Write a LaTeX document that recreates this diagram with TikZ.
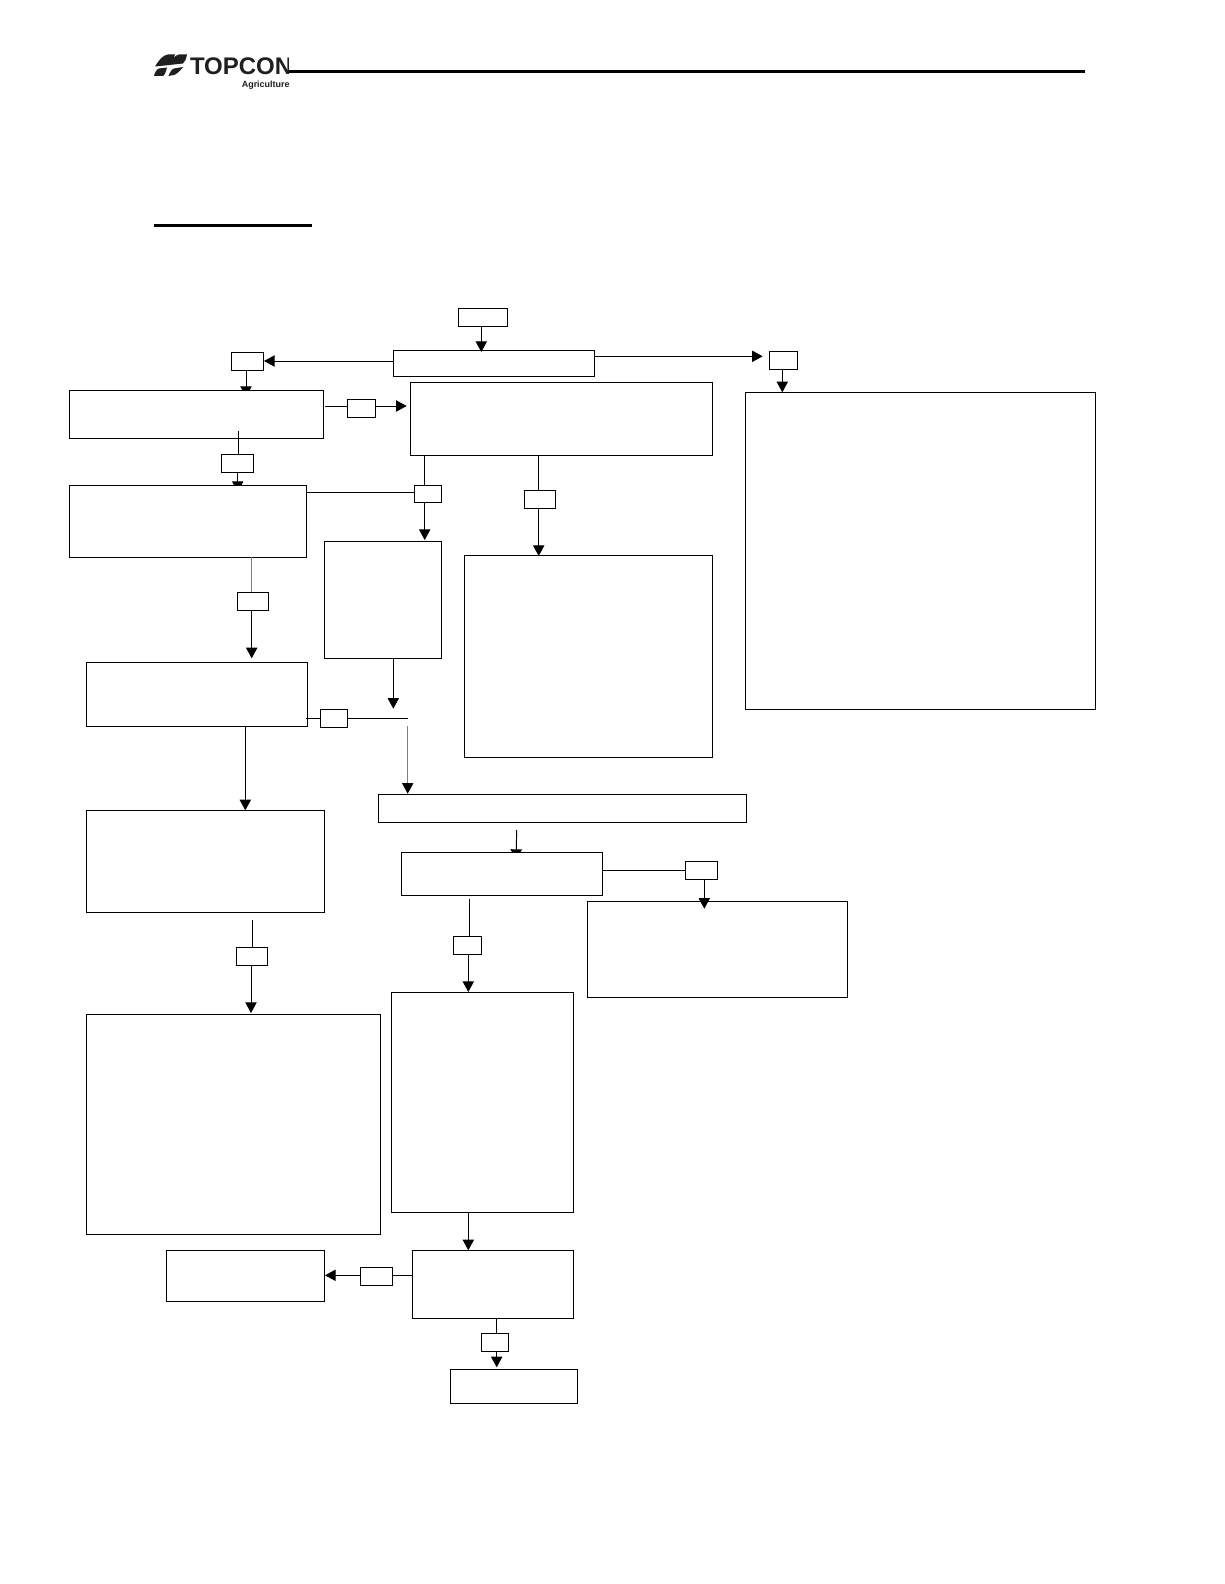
\documentclass[tikz,border=0pt]{standalone}
\usepackage{fontspec}
\setmainfont{Liberation Sans}
\usetikzlibrary{arrows.meta,backgrounds}
\tikzset{
  boxy/.style={draw=black,fill=white,line width=0.72pt,inner sep=0pt,outer sep=0pt,anchor=north west},
  link/.style={draw=black,line width=0.72pt},
  faint/.style={draw=black!50,line width=0.72pt},
  arr/.style={-{Triangle[color=black,width=8.5pt,length=8pt]}},
  rule/.style={draw=black,line width=2.1pt},
  word/.style={inner sep=0pt,outer sep=0pt,text=black!88,font=\bfseries}
}
% name, left, top, right, bottom in reference pixels
\newcommand{\pxbox}[5]{%
  \pgfmathsetmacro{\bw}{(#4-#2)*0.75}%
  \pgfmathsetmacro{\bh}{(#5-#3)*0.75}%
  \node[boxy,minimum width=\bw pt,minimum height=\bh pt] (#1) at (#2,#3) {};}
\begin{document}
\begin{tikzpicture}[x=0.75pt,y=-0.75pt]
\useasboundingbox (0,0) rectangle (1224,1584);
\begin{scope}[on background layer]
  \fill[white] (0,0) rectangle (1224,1584);
\end{scope}

% header
\fill[black!88] (155,66.5) .. controls (159,60) and (163,55) .. (168,54.5) -- (175,54.5) -- (173,59.5)
  .. controls (175,56) and (177,54.5) .. (179,54.5) -- (187,54.5) .. controls (186,59) and (185,62) .. (183,63.5)
  -- (165,65.5) -- cycle;
\fill[black!88] (154,76) .. controls (155,72) and (157,69) .. (159,68.5) -- (167,67.5)
  .. controls (166,71) and (165,75) .. (163,76) -- cycle;
\fill[black!88] (168.5,76) .. controls (170,72) and (172,69) .. (174,68.5) -- (183,67)
  .. controls (180,71) and (177,74) .. (174,75) -- cycle;
\begin{scope}
  \clip (188,50) rectangle (288.5,80);
  \node[word,anchor=west,font=\bfseries\fontsize{18}{19}\selectfont] (brand) at (190,66.5) {TOPCON};
\end{scope}
\node[word,anchor=east,font=\bfseries\fontsize{6.7}{8}\selectfont] (agri) at (289.5,85) {Agriculture};
\coordinate (headL) at (289.3,71.3);
\coordinate (headR) at (1085,71.3);
\draw[rule] (headL) -- (headR);
\coordinate (ulL) at (154,225.3);
\coordinate (ulR) at (312,225.3);
\draw[rule,line width=2.3pt] (ulL) -- (ulR);

% boxes
\pxbox{start}{458.3}{308}{507.7}{326}
\pxbox{main}{393.3}{350.7}{594.3}{376.3}
\pxbox{tagA}{231.7}{352.7}{263.3}{370.7}
\pxbox{tagR}{769.3}{351.3}{797.3}{369.3}
\pxbox{bigR}{745.7}{392}{1095.8}{709}
\pxbox{boxB}{69.3}{390}{323.3}{438.3}
\pxbox{tagB}{347.7}{399.3}{375.3}{417.3}
\pxbox{boxC}{410.3}{382.7}{712.7}{455.7}
\pxbox{tagC}{221.7}{454.7}{253}{472.7}
\pxbox{boxD}{69.3}{485}{306.3}{557.3}
\pxbox{tagD}{414.3}{485.3}{441.7}{502.7}
\pxbox{boxE}{324.3}{541.3}{441.7}{658.3}
\pxbox{tagE}{524.3}{490.3}{555.7}{508.3}
\pxbox{boxF}{464}{555.7}{712.7}{757}
\pxbox{tagF}{237}{592}{268.7}{610}
\pxbox{boxG}{86}{662.3}{307.3}{726.3}
\pxbox{tagG}{320}{709.3}{347.7}{727}
\pxbox{boxH}{378.3}{794}{746.5}{822}
\pxbox{boxI}{86}{810.7}{324.7}{912.3}
\pxbox{boxJ}{401}{852.3}{602.7}{895.7}
\pxbox{tagJ}{685.3}{861.3}{717.7}{879.3}
\pxbox{boxK}{587.3}{901.3}{847.6}{997}
\pxbox{tagK}{453.7}{936.3}{481}{954.3}
\pxbox{boxL}{391.7}{992}{573.3}{1212.3}
\pxbox{tagL}{236.3}{947.3}{267.7}{965}
\pxbox{boxM}{86}{1014}{380}{1234}
\pxbox{boxN}{412.7}{1250.7}{573.3}{1318.3}
\pxbox{tagN}{360.7}{1267.7}{392}{1285.3}
\pxbox{boxO}{166.3}{1250.7}{324.7}{1301.7}
\pxbox{tagO}{481}{1333.3}{508.7}{1351}
\pxbox{boxP}{450}{1369.3}{577}{1403.3}

% named connector ends
\coordinate (t1) at (481.3,352);
\coordinate (t2) at (264,361);
\coordinate (t3) at (762.7,356.3);
\coordinate (t4) at (782.3,392.3);
\coordinate (t5) at (246,397);
\coordinate (s6) at (325.3,406);
\coordinate (t6) at (406.7,406);
\coordinate (s7) at (238,431);
\coordinate (t8) at (237.7,492);
\coordinate (t9) at (424.7,540);
\coordinate (m9) at (424.7,485);
\coordinate (r10) at (414.3,492.3);
\coordinate (t11) at (538.7,556);
\coordinate (t12) at (251.7,658.3);
\coordinate (t13) at (393.3,708.7);
\coordinate (m14) at (306.3,718.3);
\coordinate (e14) at (408,718.3);
\coordinate (s15) at (407.7,726);
\coordinate (t15) at (407.7,793.7);
\coordinate (t16) at (245.3,810.3);
\coordinate (s17) at (516.7,830);
\coordinate (t17) at (516,860);
\coordinate (m18) at (602.7,870.3);
\coordinate (t19) at (704.3,908.7);
\coordinate (s20) at (469.3,898.7);
\coordinate (t21) at (468.3,992);
\coordinate (s22) at (252,920.3);
\coordinate (t23) at (251,1013);
\coordinate (t24) at (468.3,1250.3);
\coordinate (m25) at (412.7,1275.3);
\coordinate (t26) at (325,1275.3);
\coordinate (m27) at (496.7,1318.3);
\coordinate (t28) at (496.7,1367.3);

% connectors whose heads run under a box
\begin{scope}[on background layer]
  \draw[link,arr] (tagA.south -| t5) -- (t5);
  \draw[link,arr] (tagC.south -| t8) -- (t8);
  \draw[link,arr] (s17) -- (t17);
\end{scope}

% other connectors
\draw[link,arr] (start.south -| t1) -- (t1);
\draw[link,arr] (main.west |- t2) -- (t2);
\draw[link,arr] (main.east |- t3) -- (t3);
\draw[link,arr] (tagR.south -| t4) -- (t4);
\draw[link] (s6) -- (tagB.west |- s6);
\draw[link,arr] (tagB.east |- t6) -- (t6);
\draw[link] (s7) -- (tagC.north -| s7);
\draw[link] (boxC.south -| m9) -- (tagD.north -| m9);
\draw[link,arr] (tagD.south -| t9) -- (t9);
\draw[link] (boxD.east |- r10) -- (tagD.west |- r10);
\draw[link] (boxC.south -| t11) -- (tagE.north -| t11);
\draw[link,arr] (tagE.south -| t11) -- (t11);
\draw[faint] (boxD.south -| t12) -- (tagF.north -| t12);
\draw[link,arr] (tagF.south -| t12) -- (t12);
\draw[link,arr] (boxE.south -| t13) -- (t13);
\draw[link] (m14) -- (tagG.west |- m14);
\draw[link] (tagG.east |- e14) -- (e14);
\draw[faint,arr] (s15) -- (t15);
\draw[link,arr] (boxG.south -| t16) -- (t16);
\draw[link] (m18) -- (tagJ.west |- m18);
\draw[link,arr] (tagJ.south -| t19) -- (t19);
\draw[link] (s20) -- (tagK.north -| s20);
\draw[link,arr] (tagK.south -| t21) -- (t21);
\draw[link] (s22) -- (tagL.north -| s22);
\draw[link,arr] (tagL.south -| t23) -- (t23);
\draw[link,arr] (boxL.south -| t24) -- (t24);
\draw[link] (m25) -- (tagN.east |- m25);
\draw[link,arr] (tagN.west |- t26) -- (t26);
\draw[link] (m27) -- (tagO.north -| m27);
\draw[link,arr] (tagO.south -| t28) -- (t28);
\end{tikzpicture}
\end{document}
